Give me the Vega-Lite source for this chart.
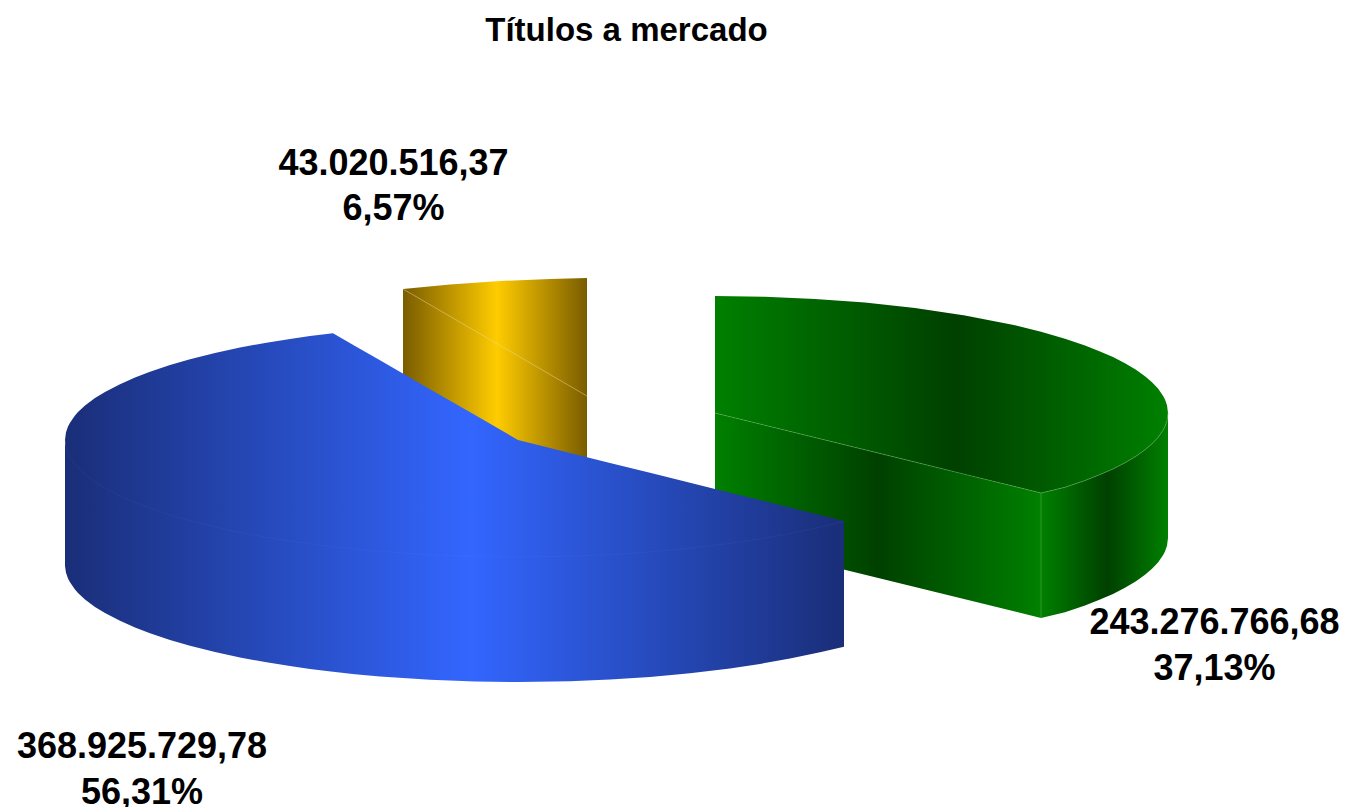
{
"$schema":"https://vega.github.io/schema/vega-lite/v6.json",
"width":1345,"height":807,"padding":0,"autosize":{"type":"none"},"background":"white",
"config":{"view":{"stroke":null}},
"title":{"text":"Títulos a mercado","font":"Liberation Sans","fontSize":33,"fontWeight":"bold","color":"#000000","anchor":"middle","dx":-46,"dy":48,"offset":0},
"datasets":{
"greenTop":[{"x":715,"y":296,"y2":413},{"x":765,"y":296.7,"y2":425.3},{"x":815,"y":298.9,"y2":437.5},{"x":865,"y":302.6,"y2":449.8},{"x":915,"y":308,"y2":462.1},{"x":965,"y":315.4,"y2":474.4},{"x":1015,"y":325.3,"y2":486.6},{"x":1041,"y":331.8,"y2":493},{"x":1065,"y":338.7,"y2":487.3},{"x":1085,"y":345.5,"y2":480.5},{"x":1100,"y":351.4,"y2":474.6},{"x":1113,"y":357.1,"y2":468.9},{"x":1125,"y":363.2,"y2":462.8},{"x":1136,"y":369.8,"y2":456.2},{"x":1145,"y":376.2,"y2":449.8},{"x":1152,"y":382.2,"y2":443.8},{"x":1158,"y":388.5,"y2":437.5},{"x":1163,"y":395.7,"y2":430.3},{"x":1165,"y":399.6,"y2":426.4},{"x":1167,"y":405.2,"y2":420.8},{"x":1168,"y":413,"y2":413}],
"greenFront":[{"x":715,"y":413,"y2":538},{"x":1041,"y":493,"y2":618}],
"greenSide":[{"x":1041,"y":493,"y2":618},{"x":1065,"y":487.3,"y2":612.3},{"x":1085,"y":480.5,"y2":605.5},{"x":1100,"y":474.6,"y2":599.6},{"x":1113,"y":468.9,"y2":593.9},{"x":1125,"y":462.8,"y2":587.8},{"x":1136,"y":456.2,"y2":581.2},{"x":1145,"y":449.8,"y2":574.8},{"x":1152,"y":443.8,"y2":568.8},{"x":1158,"y":437.5,"y2":562.5},{"x":1163,"y":430.3,"y2":555.3},{"x":1165,"y":426.4,"y2":551.4},{"x":1167,"y":420.8,"y2":545.8},{"x":1168,"y":413,"y2":538}],
"greenEdges":[{"edge":"a","x":715,"y":413},{"edge":"a","x":1041,"y":493},{"edge":"b","x":1041,"y":493},{"edge":"b","x":1065,"y":487.3},{"edge":"b","x":1085,"y":480.5},{"edge":"b","x":1100,"y":474.6},{"edge":"b","x":1113,"y":468.9},{"edge":"b","x":1125,"y":462.8},{"edge":"b","x":1136,"y":456.2},{"edge":"b","x":1145,"y":449.8},{"edge":"b","x":1152,"y":443.8},{"edge":"b","x":1158,"y":437.5},{"edge":"b","x":1163,"y":430.3},{"edge":"b","x":1165,"y":426.4},{"edge":"b","x":1167,"y":420.8},{"edge":"b","x":1168,"y":413},{"edge":"c","x":1041,"y":493},{"edge":"c","x":1041,"y":618}],
"yellow":[{"x":403,"y":289,"y2":414},{"x":450,"y":284.4,"y2":441.5},{"x":500,"y":281,"y2":470.7},{"x":550,"y":279,"y2":500},{"x":587,"y":278,"y2":521}],
"yellowEdge":[{"x":403,"y":289},{"x":587,"y":396}],
"blueTop":[{"x":65,"y":440,"y2":440},{"x":66,"y":432.2,"y2":447.8},{"x":68,"y":426.6,"y2":453.4},{"x":70,"y":422.7,"y2":457.3},{"x":75,"y":415.5,"y2":464.5},{"x":78,"y":412.1,"y2":467.9},{"x":85,"y":405.6,"y2":474.4},{"x":95,"y":398.1,"y2":481.9},{"x":105,"y":391.9,"y2":488.1},{"x":120,"y":384.2,"y2":495.8},{"x":135,"y":377.5,"y2":502.5},{"x":150,"y":371.8,"y2":508.2},{"x":170,"y":365.1,"y2":514.9},{"x":190,"y":359.3,"y2":520.7},{"x":215,"y":353,"y2":527},{"x":240,"y":347.6,"y2":532.4},{"x":265,"y":342.9,"y2":537.1},{"x":290,"y":338.9,"y2":541.1},{"x":310,"y":336.1,"y2":543.9},{"x":333,"y":333.2,"y2":546.8},{"x":355,"y":345.9,"y2":549.2},{"x":380,"y":360.3,"y2":551.4},{"x":430,"y":389.2,"y2":554.8},{"x":475,"y":415.1,"y2":556.5},{"x":518,"y":440,"y2":557},{"x":570,"y":452.9,"y2":556.2},{"x":610,"y":462.9,"y2":554.6},{"x":650,"y":472.8,"y2":551.9},{"x":690,"y":482.7,"y2":548.2},{"x":730,"y":492.7,"y2":543.4},{"x":760,"y":500.1,"y2":538.9},{"x":790,"y":507.6,"y2":533.6},{"x":820,"y":515,"y2":527.2},{"x":844,"y":521,"y2":521.2}],
"blueWall":[{"x":65,"y":440,"y2":566},{"x":66,"y":445.8,"y2":572.8},{"x":68,"y":451.4,"y2":578.4},{"x":70,"y":455.3,"y2":582.3},{"x":75,"y":462.5,"y2":589.5},{"x":78,"y":465.9,"y2":592.9},{"x":85,"y":472.4,"y2":599.4},{"x":95,"y":479.9,"y2":606.9},{"x":105,"y":486.1,"y2":613.1},{"x":120,"y":493.8,"y2":620.8},{"x":135,"y":500.5,"y2":627.5},{"x":150,"y":506.2,"y2":633.2},{"x":170,"y":512.9,"y2":639.9},{"x":190,"y":518.7,"y2":645.7},{"x":215,"y":525,"y2":652},{"x":240,"y":530.4,"y2":657.4},{"x":265,"y":535.1,"y2":662.1},{"x":290,"y":539.1,"y2":666.1},{"x":310,"y":541.9,"y2":668.9},{"x":333,"y":544.8,"y2":671.8},{"x":355,"y":547.2,"y2":674.2},{"x":380,"y":549.4,"y2":676.4},{"x":430,"y":552.8,"y2":679.8},{"x":475,"y":554.5,"y2":681.5},{"x":518,"y":555,"y2":682},{"x":570,"y":554.2,"y2":681.2},{"x":610,"y":552.6,"y2":679.6},{"x":650,"y":549.9,"y2":676.9},{"x":690,"y":546.2,"y2":673.2},{"x":730,"y":541.4,"y2":668.4},{"x":760,"y":536.9,"y2":663.9},{"x":790,"y":531.6,"y2":658.6},{"x":820,"y":525.2,"y2":652.2},{"x":844,"y":521.2,"y2":646.8}],
"labels":[{"categoria":"Amarelo","valor":"43.020.516,37","percentual":"6,57%","x":393.5,"y":175,"yp":220},{"categoria":"Verde","valor":"243.276.766,68","percentual":"37,13%","x":1214.5,"y":634,"yp":680},{"categoria":"Azul","valor":"368.925.729,78","percentual":"56,31%","x":142,"y":758,"yp":804}]
},
"encoding":{
"x":{"field":"x","type":"quantitative","axis":null,"scale":{"domain":[0,1345],"nice":false,"zero":false}},
"y":{"field":"y","type":"quantitative","axis":null,"scale":{"domain":[807,0],"nice":false,"zero":false}}
},
"layer":[
{"data":{"name":"greenTop"},"mark":{"type":"area","fill":{"gradient":"linear","x1":0,"x2":1,"y1":0,"y2":0,"stops":[{"offset":0,"color":"#008000"},{"offset":0.53,"color":"#004000"},{"offset":1,"color":"#008000"}]}},"encoding":{"y2":{"field":"y2"}}},
{"data":{"name":"greenFront"},"mark":{"type":"area","fill":{"gradient":"linear","x1":0,"x2":1,"y1":0,"y2":0,"stops":[{"offset":0,"color":"#008000"},{"offset":0.5,"color":"#004000"},{"offset":1,"color":"#008000"}]}},"encoding":{"y2":{"field":"y2"}}},
{"data":{"name":"greenSide"},"mark":{"type":"area","fill":{"gradient":"linear","x1":0,"x2":1,"y1":0,"y2":0,"stops":[{"offset":0,"color":"#008000"},{"offset":0.52,"color":"#004000"},{"offset":1,"color":"#008000"}]}},"encoding":{"y2":{"field":"y2"}}},
{"data":{"name":"greenEdges"},"mark":{"type":"line","stroke":"#60b060","strokeWidth":0.6,"opacity":0.8},"encoding":{"detail":{"field":"edge"}}},
{"data":{"name":"yellow"},"mark":{"type":"area","fill":{"gradient":"linear","x1":0,"x2":1,"y1":0,"y2":0,"stops":[{"offset":0,"color":"#7a5c00"},{"offset":0.51,"color":"#ffcc00"},{"offset":1,"color":"#7a5c00"}]}},"encoding":{"y2":{"field":"y2"}}},
{"data":{"name":"yellowEdge"},"mark":{"type":"line","stroke":"#ecdca0","strokeWidth":0.6,"opacity":0.8},"encoding":{}},
{"data":{"name":"blueWall"},"mark":{"type":"area","fill":{"gradient":"linear","x1":0,"x2":1,"y1":0,"y2":0,"stops":[{"offset":0,"color":"#1a2e78"},{"offset":0.52,"color":"#3366ff"},{"offset":1,"color":"#1a2e78"}]}},"encoding":{"y2":{"field":"y2"}}},
{"data":{"name":"blueTop"},"mark":{"type":"area","fill":{"gradient":"linear","x1":0,"x2":1,"y1":0,"y2":0,"stops":[{"offset":0,"color":"#1a2e78"},{"offset":0.52,"color":"#3366ff"},{"offset":1,"color":"#1a2e78"}]}},"encoding":{"y2":{"field":"y2"}}},
{"data":{"name":"blueTop"},"mark":{"type":"line","stroke":"#7090ff","strokeWidth":0.5,"opacity":0.15},"encoding":{"y":{"field":"y2","type":"quantitative"}}},
{"data":{"name":"labels"},"mark":{"type":"text","font":"Liberation Sans","fontSize":36,"fontWeight":"bold","align":"center","baseline":"alphabetic","color":"#000000"},"encoding":{"text":{"field":"valor"}}},
{"data":{"name":"labels"},"mark":{"type":"text","font":"Liberation Sans","fontSize":36,"fontWeight":"bold","align":"center","baseline":"alphabetic","color":"#000000"},"encoding":{"text":{"field":"percentual"},"y":{"field":"yp","type":"quantitative"}}}
]
}
